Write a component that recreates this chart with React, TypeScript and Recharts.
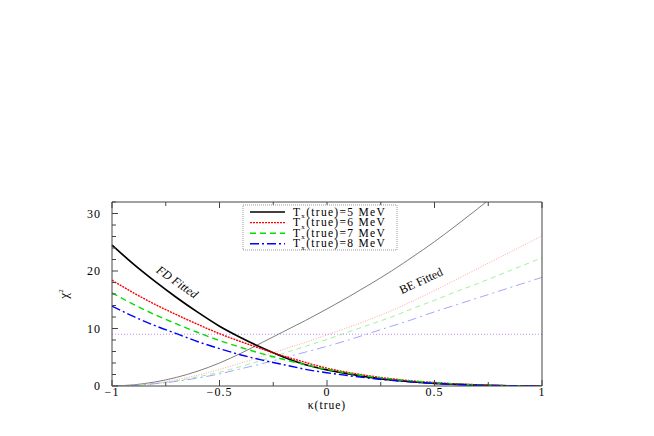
import { LineChart, Line, XAxis, YAxis, ReferenceLine, ReferenceDot } from "recharts"

// kappa(true) sample points
const kappa = [-1, -0.9, -0.8, -0.7, -0.6, -0.5, -0.4, -0.3, -0.2, -0.1, 0, 0.1, 0.2, 0.3, 0.4, 0.5, 0.6, 0.7, 0.8, 0.9, 1]

// FD fitted chi^2, one array per true temperature
const fd5 = [24.5, 21.2, 18.2, 15.4, 12.8, 10.4, 8.4, 6.6, 5.0, 3.7, 2.8, 2.1, 1.5, 1.05, 0.7, 0.45, 0.27, 0.14, 0.06, 0.015, 0]
const fd6 = [18.4, 16.2, 14.2, 12.4, 10.7, 9.1, 7.7, 6.4, 5.2, 4.1, 3.1, 2.35, 1.75, 1.25, 0.88, 0.6, 0.38, 0.22, 0.1, 0.03, 0]
const fd7 = [16.2, 14.2, 12.4, 10.8, 9.3, 7.9, 6.7, 5.6, 4.6, 3.7, 2.9, 2.2, 1.65, 1.2, 0.83, 0.56, 0.35, 0.2, 0.09, 0.025, 0]
const fd8 = [13.9, 12.1, 10.5, 9.1, 7.7, 6.5, 5.4, 4.5, 3.7, 2.9, 2.3, 1.8, 1.35, 0.98, 0.68, 0.45, 0.28, 0.16, 0.07, 0.02, 0]

// BE fitted chi^2
const be5 = [0, 0.2, 0.7, 1.5, 2.6, 4.0, 5.7, 7.6, 9.5, 11.4, 13.4, 15.5, 17.7, 20.0, 22.5, 25.1, 27.9, 30.8, 33.8, 36.9, 40.1]
const be6 = [0, 0.1, 0.5, 1.1, 1.9, 2.9, 4.0, 5.2, 6.4, 7.6, 8.9, 10.2, 11.6, 13.1, 14.8, 16.6, 18.5, 20.4, 22.3, 24.2, 26.1]
const be7 = [0, 0.1, 0.4, 0.9, 1.6, 2.4, 3.4, 4.5, 5.7, 6.9, 8.1, 9.4, 10.7, 12.0, 13.5, 14.9, 16.4, 17.8, 19.3, 20.8, 22.3]
const be8 = [0, 0.1, 0.4, 0.8, 1.4, 2.1, 3.0, 3.9, 4.9, 5.9, 6.9, 8.0, 9.2, 10.4, 11.6, 12.9, 14.1, 15.3, 16.5, 17.7, 18.9]

const temps = [5, 6, 7, 8]
const threshold = 9

const xTicks = [-1, -0.75, -0.5, -0.25, 0, 0.25, 0.5, 0.75, 1]
const xLabels = [-1, -0.5, 0, 0.5, 1]
const yTicks = [0, 2, 4, 6, 8, 10, 12, 14, 16, 18, 20, 22, 24, 26, 28, 30, 32]
const yLabels = [0, 10, 20, 30]

const data = kappa.map((k, i) => ({
  k,
  fd5: fd5[i], fd6: fd6[i], fd7: fd7[i], fd8: fd8[i],
  be5: be5[i], be6: be6[i], be7: be7[i], be8: be8[i],
}))

const styles = [
  { color: "#000000", beColor: "#6e6e6e", dash: undefined, beDash: undefined },
  { color: "#ff0000", beColor: "#ff9a9a", dash: "2 1", beDash: "1 1.5" },
  { color: "#00dd00", beColor: "#8ef08e", dash: "6 4", beDash: "5 4" },
  { color: "#0000ff", beColor: "#9a9aff", dash: "9 3 2 3", beDash: "9 4 2 4" },
]

const FONT = "Liberation Serif, DejaVu Serif, serif"
const AXIS = "#444"

const fmt = (v: number) => (v < 0 ? `\u2212${Math.abs(v)}` : `${v}`)

function BottomTick({ x, y, payload }: any) {
  const major = xLabels.includes(payload.value)
  return (
    <g>
      <line x1={x} x2={x} y1={y} y2={y - (major ? 6 : 4)} stroke={AXIS} />
      {major && (
        <text x={x} y={y + 10} textAnchor="middle" fontSize={12} letterSpacing={1} fontFamily={FONT} fill="#000">
          {fmt(payload.value)}
        </text>
      )}
    </g>
  )
}

function TopTick({ x, y, payload }: any) {
  const major = xLabels.includes(payload.value)
  return <line x1={x} x2={x} y1={y} y2={y + (major ? 6 : 4)} stroke={AXIS} />
}

function LeftTick({ x, y, payload }: any) {
  const major = yLabels.includes(payload.value)
  return (
    <g>
      <line x1={x} x2={x + (major ? 6 : 4)} y1={y} y2={y} stroke={AXIS} />
      {major && (
        <text x={x - 11} y={y + 4} textAnchor="end" fontSize={12} letterSpacing={1} fontFamily={FONT} fill="#000">
          {payload.value}
        </text>
      )}
    </g>
  )
}

function RightTick({ x, y, payload }: any) {
  const major = yLabels.includes(payload.value)
  return <line x1={x} x2={x - (major ? 6 : 4)} y1={y} y2={y} stroke={AXIS} />
}

const rotated = (text: string, angle: number, italic: boolean) => (props: any) => {
  const { x, y } = props.viewBox
  return (
    <text
      transform={`translate(${x},${y}) rotate(${angle})`}
      textAnchor="middle"
      dominantBaseline="middle"
      fontSize={12}
      fontStyle={italic ? "italic" : "normal"}
      fontFamily={FONT}
      fill="#000"
    >
      {text}
    </text>
  )
}

function LegendBox() {
  return (
    <svg width={156} height={47} style={{ position: "absolute", left: 242, top: 204 }}>
      <rect x={1} y={1} width={154} height={45} fill="#fff" stroke="#999" strokeDasharray="1 1" />
      {temps.map((t, i) => {
        const cy = 8 + i * 10.6
        return (
          <g key={t}>
            <line x1={8} x2={43} y1={cy} y2={cy} stroke={styles[i].color} strokeWidth={1.4} strokeDasharray={styles[i].dash} />
            <text x={51} y={cy + 3.5} fontSize={11.5} letterSpacing={1.3} fontFamily={FONT} fill="#000">
              T<tspan dy={2.5} fontSize={7}>x</tspan>
              <tspan dy={-2.5}>(true)={t} MeV</tspan>
            </text>
          </g>
        )
      })}
    </svg>
  )
}

export default function App() {
  return (
    <div style={{ position: "absolute", left: 0, top: 0, width: 654, height: 436, background: "#fff" }}>
      <LineChart width={654} height={436} data={data} margin={{ top: 192, right: 102, bottom: 20, left: 72 }}>
        <XAxis
          dataKey="k"
          type="number"
          domain={[-1, 1]}
          ticks={xTicks}
          interval={0}
          tickSize={0}
          tickMargin={0}
          tickLine={false}
          height={30}
          axisLine={{ stroke: AXIS }}
          tick={<BottomTick />}
          label={{
            content: (p: any) => (
              <text
                x={p.viewBox.x + p.viewBox.width / 2}
                y={p.viewBox.y + 23}
                textAnchor="middle"
                fontSize={11.5}
                letterSpacing={1}
                fontFamily={FONT}
                fill="#000"
              >
                κ(true)
              </text>
            ),
          }}
        />
        <XAxis
          xAxisId="top"
          orientation="top"
          dataKey="k"
          type="number"
          domain={[-1, 1]}
          ticks={xTicks}
          interval={0}
          tickSize={0}
          tickMargin={0}
          tickLine={false}
          height={10}
          axisLine={{ stroke: AXIS }}
          tick={<TopTick />}
        />
        <YAxis
          type="number"
          domain={[0, 32]}
          allowDataOverflow
          ticks={yTicks}
          interval={0}
          tickSize={0}
          tickMargin={0}
          tickLine={false}
          width={40}
          axisLine={{ stroke: AXIS }}
          tick={<LeftTick />}
          label={{
            content: (p: any) => (
              <text
                transform={`translate(${p.viewBox.x - 4},${p.viewBox.y + p.viewBox.height / 2}) rotate(-90)`}
                textAnchor="middle"
                fontSize={13}
                fontFamily={FONT}
                fill="#000"
              >
                χ<tspan dy={-5} fontSize={7}>2</tspan>
              </text>
            ),
          }}
        />
        <YAxis
          yAxisId="right"
          orientation="right"
          type="number"
          domain={[0, 32]}
          ticks={yTicks}
          interval={0}
          tickSize={0}
          tickMargin={0}
          tickLine={false}
          width={10}
          axisLine={{ stroke: AXIS }}
          tick={<RightTick />}
        />
        <ReferenceLine y={threshold} stroke="#c48cff" strokeDasharray="1 2" strokeWidth={1} />
        {temps.map((t, i) => (
          <Line
            key={`be${t}`}
            type="monotone"
            dataKey={`be${t}`}
            stroke={styles[i].beColor}
            strokeWidth={0.9}
            strokeDasharray={styles[i].beDash}
            dot={false}
            isAnimationActive={false}
          />
        ))}
        {temps.map((t, i) => (
          <Line
            key={`fd${t}`}
            type="monotone"
            dataKey={`fd${t}`}
            stroke={styles[i].color}
            strokeWidth={i === 0 ? 1.7 : 1.4}
            strokeDasharray={styles[i].dash}
            dot={false}
            isAnimationActive={false}
          />
        ))}
        <ReferenceDot x={-0.7} y={17.9} r={0} fill="none" stroke="none" label={rotated("FD Fitted", 35, true)} />
        <ReferenceDot x={0.44} y={18.1} r={0} fill="none" stroke="none" label={rotated("BE Fitted", -25, false)} />
      </LineChart>
      <LegendBox />
    </div>
  )
}
